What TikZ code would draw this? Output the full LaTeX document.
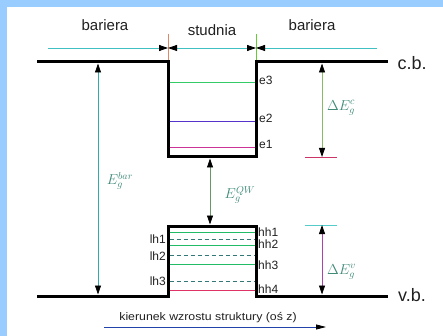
\documentclass[tikz,border=0pt]{standalone}
\usepackage{fontspec}
\setmainfont{Liberation Sans}
\usetikzlibrary{arrows.meta}
\definecolor{frameblue}{HTML}{99CCFF}
\definecolor{dimc}{HTML}{40C0C0}
\definecolor{tickl}{HTML}{DD8866}
\definecolor{tickr}{HTML}{66CC33}
\definecolor{ethree}{HTML}{33CC66}
\definecolor{etwo}{HTML}{5533CC}
\definecolor{eone}{HTML}{CC3399}
\definecolor{hhc}{HTML}{22BB66}
\definecolor{hhfour}{HTML}{DD3366}
\definecolor{lhc}{HTML}{337777}
\definecolor{ebarc}{HTML}{33AAAA}
\definecolor{eqwc}{HTML}{669966}
\definecolor{dec}{HTML}{88BB66}
\definecolor{dev}{HTML}{AA44AA}
\definecolor{tickc}{HTML}{CC3366}
\definecolor{tickv}{HTML}{55CCCC}
\definecolor{axisc}{HTML}{2244AA}
\definecolor{mathc}{HTML}{3F8A78}
\definecolor{txtc}{HTML}{202020}
\begin{document}
\begin{tikzpicture}[x=1pt,y=-1pt,
  tip/.tip={Triangle[black,length=9pt,width=6pt]},
  band/.style={line width=3pt,black,line join=miter},
  lvl/.style={line width=1pt},
  dlvl/.style={line width=0.9pt,dash pattern=on 4pt off 3pt,lhc},
  dimarrow/.style={line width=0.8pt,tip-tip},
  head/.style={font=\fontsize{15}{17}\selectfont,text=txtc,inner sep=0pt},
  bandlab/.style={font=\fontsize{18}{20}\selectfont,text=txtc,inner sep=0pt},
  small/.style={font=\fontsize{12}{13}\selectfont,text=txtc,inner sep=0pt},
  mlab/.style={font=\fontsize{14}{16}\selectfont,text=mathc,inner sep=0pt}]
\useasboundingbox (0,0) rectangle (443,336);
\fill[frameblue] (0,0) rectangle (443,7);
\fill[frameblue] (0,0) rectangle (7,336);
% headings
\node[head] (bar1) at (105,25) {bariera};
\node[head] (stud) at (212,30) {studnia};
\node[head] (bar2) at (312,25) {bariera};
% dimension line on top
\coordinate (dL) at (48,48);
\coordinate (d1) at (168,48);
\coordinate (d2) at (256,48);
\coordinate (dR) at (377,48);
\coordinate (t1) at (168,34);
\coordinate (t2) at (256,34);
\coordinate (t1b) at (168,62);
\coordinate (t2b) at (256,62);
\draw[line width=0.8pt,tickl] (t1) -- (t1b);
\draw[line width=0.8pt,tickr] (t2) -- (t2b);
\draw[line width=0.8pt,dimc,-tip] (dL) -- (d1);
\draw[line width=0.8pt,dimc,tip-tip] (d1) -- (d2);
\draw[line width=0.8pt,dimc,tip-] (d2) -- (dR);
% conduction band
\coordinate (cbL) at (37,62);
\coordinate (cwTL) at (168,62);
\coordinate (cwBL) at (168,157);
\coordinate (cwBR) at (256,157);
\coordinate (cwTR) at (256,62);
\coordinate (cbR) at (388,62);
\draw[band] (cbL) -- (cwTL) -- (cwBL) -- (cwBR) -- (cwTR) -- (cbR);
\node[bandlab] (cb) at (412,63) {c.b.};
% valence band
\coordinate (vbL) at (37,296);
\coordinate (vwBL) at (168,296);
\coordinate (vwTL) at (168,226);
\coordinate (vwTR) at (256,226);
\coordinate (vwBR) at (256,296);
\coordinate (vbR) at (388,296);
\draw[band] (vbL) -- (vwBL) -- (vwTL) -- (vwTR) -- (vwBR) -- (vbR);
\node[bandlab] (vb) at (412,295) {v.b.};
% electron levels
\draw[lvl,ethree] (169.5,83) -- (254.5,83);
\draw[lvl,etwo] (169.5,122) -- (254.5,122);
\draw[lvl,eone] (169.5,148) -- (254.5,148);
\node[small,anchor=base west] (e3) at (259,85) {e3};
\node[small,anchor=base west] (e2) at (259,123) {e2};
\node[small,anchor=base west] (e1) at (259,149) {e1};
% hole levels
\draw[lvl,hhc] (169.5,232) -- (254.5,232);
\draw[dlvl] (169.5,239) -- (254.5,239);
\draw[lvl,hhc] (169.5,245) -- (254.5,245);
\draw[dlvl] (169.5,255) -- (254.5,255);
\draw[lvl,hhc] (169.5,264) -- (254.5,264);
\draw[dlvl] (169.5,281) -- (254.5,281);
\draw[lvl,hhfour] (169.5,290) -- (254.5,290);
\node[small,anchor=west] (hh1) at (258,232) {hh1};
\node[small,anchor=west] (hh2) at (258,244) {hh2};
\node[small,anchor=west] (hh3) at (258,265) {hh3};
\node[small,anchor=west] (hh4) at (258,289) {hh4};
\node[small,anchor=east] (lh1) at (166,239) {lh1};
\node[small,anchor=east] (lh2) at (166,256) {lh2};
\node[small,anchor=east] (lh3) at (166,281) {lh3};
% barrier gap
\coordinate (gbT) at (98,63.5);
\coordinate (gbB) at (98,294.5);
\draw[dimarrow,ebarc] (gbT) -- (gbB);
\node[mlab] (Ebar) at (120,181) {$E_g^{bar}$};
% QW gap
\coordinate (gqT) at (210,158.5);
\coordinate (gqB) at (210,224.5);
\draw[dimarrow,eqwc] (gqT) -- (gqB);
\node[mlab] (Eqw) at (240,195) {$E_g^{QW}$};
% conduction offset
\coordinate (dcT) at (322,63.5);
\coordinate (dcB) at (322,157);
\coordinate (dcl) at (305,157);
\coordinate (dcr) at (337,157);
\draw[line width=0.8pt,tickc] (dcl) -- (dcr);
\draw[dimarrow,dec] (dcT) -- (dcB);
\node[mlab,anchor=west] (dEc) at (327,108) {$\Delta E_g^c$};
% valence offset
\coordinate (dvT) at (322,225);
\coordinate (dvB) at (322,294.5);
\coordinate (dvl) at (305,225);
\coordinate (dvr) at (337,225);
\draw[line width=0.8pt,tickv] (dvl) -- (dvr);
\draw[dimarrow,dev] (dvT) -- (dvB);
\node[mlab,anchor=west] (dEv) at (327,272) {$\Delta E_g^v$};
% growth direction
\node[font=\fontsize{11}{12}\selectfont,text=txtc,inner sep=0pt,xscale=1.12] (grow) at (208,318) {kierunek wzrostu struktury (oś z)};
\coordinate (aL) at (104,327);
\coordinate (aR) at (326,327);
\draw[line width=0.8pt,axisc,-{Triangle[black,length=10pt,width=5pt]}] (aL) -- (aR);
\end{tikzpicture}
\end{document}
